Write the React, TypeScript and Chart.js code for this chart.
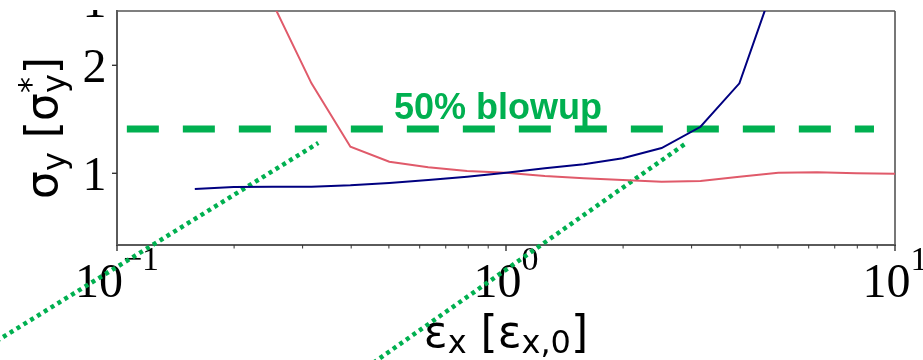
import { useEffect, useRef } from "react";
import { Chart, registerables } from "chart.js";

Chart.register(...registerables);

// Beam size σy (in units of σy*) versus horizontal emittance εx (in units of εx,0)
const blueEmittance = [0.1585, 0.1995, 0.2512, 0.3162, 0.3981, 0.5012, 0.631, 0.7943, 1.0, 1.2589, 1.5849, 1.9953, 2.5119, 3.1623, 3.9811, 5.0119];
const blueSigma = [0.855, 0.873, 0.876, 0.876, 0.889, 0.91, 0.938, 0.969, 1.006, 1.046, 1.083, 1.139, 1.234, 1.431, 1.833, 2.864];

const redEmittance = [0.2512, 0.3162, 0.3981, 0.5012, 0.631, 0.7943, 1.0, 1.2589, 1.5849, 1.9953, 2.5119, 3.1623, 3.9811, 5.0119, 6.3096, 7.9433, 10.0];
const redSigma = [2.578, 1.833, 1.246, 1.107, 1.056, 1.021, 1.006, 0.975, 0.954, 0.938, 0.922, 0.929, 0.969, 1.006, 1.009, 1.0, 0.996];

// 50% blow-up threshold
const blowupLevel = 1.41;
const blowupSpan = [0.106, 8.83];
const blowupLabel = "50% blowup";
const blowupLabelAt = { x: 0.515, y: 1.5 };

// Scaling guide lines
const lowGuideX = [0.047, 0.3292];
const lowGuideY = [-0.594, 1.281];
const highGuideX = [0.422, 2.915];
const highGuideY = [-0.84, 1.283];

// Axes
const xMin = 0.1;
const xMax = 10;
const yMin = 0.336;
const yMax = 2.503;
const xMajorTicks = [0.1, 1, 10];
const xMajorExponents = ["\u22121", "0", "1"];
const xMinorTicks = [0.2, 0.3, 0.4, 0.5, 0.6, 0.7, 0.8, 0.9, 2, 3, 4, 5, 6, 7, 8, 9];
const yTicks = [1, 2];
const yTickLabels = ["1", "2"];
const upperPanelLabel = "1";

const GREEN = "#00b050";
const SERIF = "'Liberation Serif', 'Times New Roman', serif";
const SANS = "'DejaVu Sans', sans-serif";

type Run = { text: string; size: number; shift?: number; stack?: boolean };

function drawRuns(
  ctx: CanvasRenderingContext2D,
  runs: Run[],
  family: string,
  cx: number,
  baseline: number,
  rotate: boolean
) {
  ctx.save();
  ctx.translate(cx, baseline);
  if (rotate) ctx.rotate(-Math.PI / 2);
  const placed: { r: Run; start: number }[] = [];
  let cursor = 0;
  let prevStart = 0;
  let prevW = 0;
  for (const r of runs) {
    ctx.font = `${r.size}px ${family}`;
    const w = ctx.measureText(r.text).width;
    let start: number;
    if (r.stack) {
      start = prevStart;
      prevW = Math.max(prevW, w);
      cursor = prevStart + prevW;
    } else {
      start = cursor;
      prevStart = start;
      prevW = w;
      cursor += w;
    }
    placed.push({ r, start });
  }
  const total = cursor;
  ctx.textAlign = "left";
  ctx.textBaseline = "alphabetic";
  ctx.fillStyle = "#000";
  for (const p of placed) {
    ctx.font = `${p.r.size}px ${family}`;
    ctx.fillText(p.r.text, p.start - total / 2, p.r.shift || 0);
  }
  ctx.restore();
}

const axisDecor = {
  id: "axisDecor",
  beforeDatasetsDraw(chart: any) {
    const { ctx, chartArea } = chart;
    const { left, right, top, bottom } = chartArea;
    const xs = chart.scales.x;
    const ys = chart.scales.y;
    ctx.save();

    // spines
    ctx.lineCap = "butt";
    ctx.strokeStyle = "#000";
    ctx.lineWidth = 1.2;
    ctx.beginPath();
    ctx.moveTo(left, top);
    ctx.lineTo(right, top);
    ctx.stroke();
    ctx.strokeStyle = "#555";
    ctx.lineWidth = 1.6;
    ctx.beginPath();
    ctx.moveTo(right, top);
    ctx.lineTo(right, bottom);
    ctx.stroke();
    ctx.strokeStyle = "#5a5a5a";
    ctx.lineWidth = 2;
    ctx.beginPath();
    ctx.moveTo(left, top - 1);
    ctx.lineTo(left, bottom + 1);
    ctx.moveTo(left - 1, bottom);
    ctx.lineTo(right + 1, bottom);
    ctx.stroke();

    // x ticks
    ctx.strokeStyle = "#333";
    ctx.lineWidth = 1.4;
    for (const v of xMajorTicks) {
      const px = xs.getPixelForValue(v);
      ctx.beginPath();
      ctx.moveTo(px, bottom);
      ctx.lineTo(px, bottom + 6);
      ctx.stroke();
    }
    ctx.lineWidth = 1;
    for (const v of xMinorTicks) {
      const px = xs.getPixelForValue(v);
      ctx.beginPath();
      ctx.moveTo(px, bottom);
      ctx.lineTo(px, bottom + 3.5);
      ctx.stroke();
    }
    // y ticks
    ctx.lineWidth = 1.4;
    for (const v of yTicks) {
      const py = ys.getPixelForValue(v);
      ctx.beginPath();
      ctx.moveTo(left - 5, py);
      ctx.lineTo(left, py);
      ctx.stroke();
    }

    // x tick labels 10^n
    xMajorTicks.forEach((v, i) => {
      const px = xs.getPixelForValue(v);
      drawRuns(
        ctx,
        [
          { text: "10", size: 48 },
          { text: xMajorExponents[i], size: 34, shift: -27 },
        ],
        SERIF,
        px,
        bottom + 52,
        false
      );
    });

    // y tick labels
    ctx.fillStyle = "#000";
    ctx.font = `48px ${SERIF}`;
    ctx.textAlign = "right";
    ctx.textBaseline = "alphabetic";
    yTicks.forEach((v, i) => {
      const py = ys.getPixelForValue(v);
      ctx.fillText(yTickLabels[i], left - 10.5, py + 17);
    });
    // lowest label of the panel above, only its foot shows below that panel's edge
    ctx.save();
    ctx.beginPath();
    ctx.rect(0, top - 1, left, 40);
    ctx.clip();
    ctx.fillText(upperPanelLabel, left - 10.5, top + 5.5);
    ctx.restore();

    // axis titles
    drawRuns(
      ctx,
      [
        { text: "\u03b5", size: 44 },
        { text: "x", size: 32, shift: 6 },
        { text: " ", size: 44 },
        { text: "[", size: 44 },
        { text: "\u03b5", size: 44 },
        { text: "x,0", size: 32, shift: 6 },
        { text: "]", size: 44 },
      ],
      SANS,
      (left + right) / 2,
      bottom + 102,
      false
    );
    drawRuns(
      ctx,
      [
        { text: "\u03c3", size: 44 },
        { text: "y", size: 32, shift: 8 },
        { text: " ", size: 44 },
        { text: "[", size: 44 },
        { text: "\u03c3", size: 44 },
        { text: "y", size: 32, shift: 8 },
        { text: "*", size: 32, shift: -16, stack: true },
        { text: "]", size: 44 },
      ],
      SANS,
      57,
      (top + bottom) / 2,
      true
    );

    // threshold annotation
    ctx.fillStyle = GREEN;
    ctx.font = `bold 36px 'Liberation Sans', Arial, sans-serif`;
    ctx.textAlign = "left";
    ctx.textBaseline = "alphabetic";
    ctx.fillText(
      blowupLabel,
      xs.getPixelForValue(blowupLabelAt.x),
      ys.getPixelForValue(blowupLabelAt.y)
    );

    ctx.restore();
  },
};

export default function App() {
  const canvasRef = useRef<HTMLCanvasElement | null>(null);

  useEffect(() => {
    document.body.style.margin = "0";
    const canvas = canvasRef.current;
    if (!canvas) return;
    const chart = new Chart(canvas, {
      type: "line",
      data: {
        datasets: [
          {
            data: blueEmittance.map((x, i) => ({ x, y: blueSigma[i] })),
            borderColor: "#000080",
            borderWidth: 2,
            pointRadius: 0,
            tension: 0,
            fill: false,
          },
          {
            data: redEmittance.map((x, i) => ({ x, y: redSigma[i] })),
            borderColor: "#e05a6a",
            borderWidth: 2,
            pointRadius: 0,
            tension: 0,
            fill: false,
          },
          {
            data: blowupSpan.map((x) => ({ x, y: blowupLevel })),
            borderColor: GREEN,
            borderWidth: 7,
            borderDash: [32, 24],
            borderCapStyle: "butt",
            pointRadius: 0,
            fill: false,
          },
          {
            data: lowGuideX.map((x, i) => ({ x, y: lowGuideY[i] })),
            borderColor: GREEN,
            borderWidth: 4.5,
            borderDash: [4, 4],
            borderCapStyle: "butt",
            pointRadius: 0,
            fill: false,
            clip: false,
          },
          {
            data: highGuideX.map((x, i) => ({ x, y: highGuideY[i] })),
            borderColor: GREEN,
            borderWidth: 4.5,
            borderDash: [4, 4],
            borderCapStyle: "butt",
            pointRadius: 0,
            fill: false,
            clip: false,
          },
        ],
      },
      options: {
        animation: false,
        responsive: false,
        maintainAspectRatio: false,
        layout: { padding: { top: 11, right: 28, left: 0, bottom: 0 } },
        plugins: {
          legend: { display: false },
          tooltip: { enabled: false },
        },
        scales: {
          x: {
            type: "logarithmic",
            min: xMin,
            max: xMax,
            grid: { display: false },
            border: { display: false },
            ticks: { display: false },
            afterFit: (s: any) => {
              s.height = 115;
            },
          },
          y: {
            type: "linear",
            min: yMin,
            max: yMax,
            grid: { display: false },
            border: { display: false },
            ticks: { display: false },
            afterFit: (s: any) => {
              s.width = 117;
            },
          },
        },
      } as any,
      plugins: [axisDecor],
    });
    return () => chart.destroy();
  }, []);

  return (
    <div style={{ position: "absolute", left: 0, top: 0, width: 923, height: 360, background: "#fff" }}>
      <canvas ref={canvasRef} width={923} height={360} style={{ width: 923, height: 360, display: "block" }} />
    </div>
  );
}
